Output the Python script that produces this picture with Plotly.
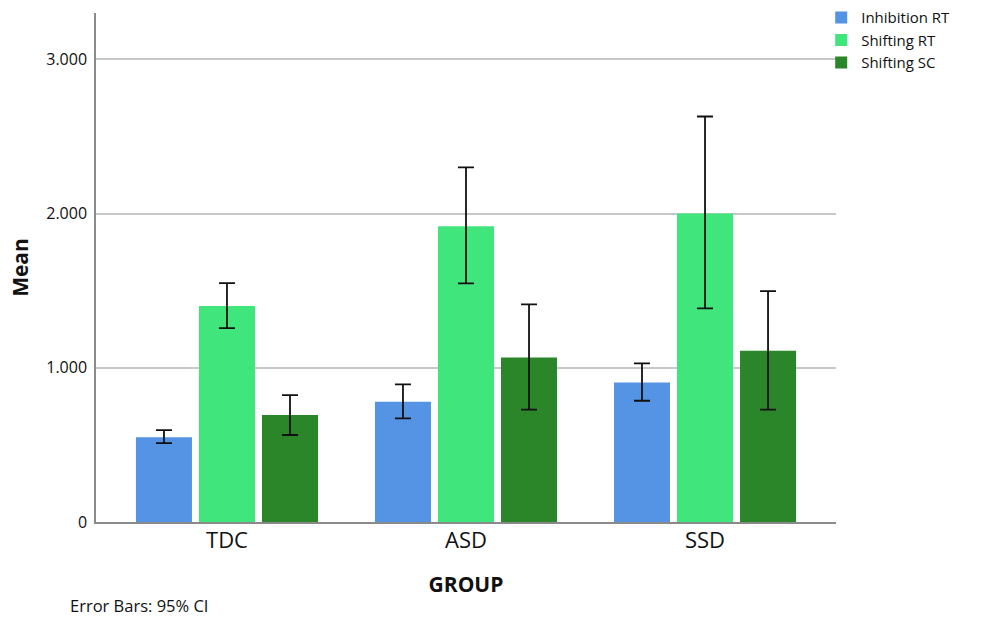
import plotly.graph_objects as go

groups = ["TDC", "ASD", "SSD"]
series_names = ["Inhibition RT", "Shifting RT", "Shifting SC"]
means = {
    "Inhibition RT": [0.550, 0.780, 0.905],
    "Shifting RT": [1.400, 1.918, 2.000],
    "Shifting SC": [0.693, 1.067, 1.110],
}
ci_upper = {
    "Inhibition RT": [0.596, 0.892, 1.028],
    "Shifting RT": [1.549, 2.299, 2.629],
    "Shifting SC": [0.823, 1.411, 1.497],
}
ci_lower = {
    "Inhibition RT": [0.512, 0.672, 0.786],
    "Shifting RT": [1.257, 1.547, 1.385],
    "Shifting SC": [0.564, 0.728, 0.728],
}
colors = {"Inhibition RT": "#5594E4", "Shifting RT": "#40E67B", "Shifting SC": "#2B8529"}
y_tickvals = [0, 1, 2, 3]
y_ticktext = ["0", "1.000", "2.000", "3.000"]

FONT = "Open Sans"

fig = go.Figure()
for name in series_names:
    m = means[name]
    up = [u - v for u, v in zip(ci_upper[name], m)]
    lo = [v - l for v, l in zip(m, ci_lower[name])]
    fig.add_trace(go.Bar(
        x=groups, y=m, name=name,
        marker=dict(color=colors[name], line=dict(width=0)),
        error_y=dict(type="data", symmetric=False, array=up, arrayminus=lo,
                     color="#111111", thickness=1.8, width=8),
    ))

fig.update_layout(
    width=981, height=617,
    margin=dict(l=96, r=145, t=13, b=95, autoexpand=False),
    plot_bgcolor="white", paper_bgcolor="white",
    barmode="group", bargap=0.209, bargroupgap=0.111,
    font=dict(family=FONT, color="#111111"),
    showlegend=True,
    legend=dict(x=0.98, y=1.023, xanchor="left", yanchor="top",
                font=dict(family=FONT, size=15, color="#111111"),
                itemwidth=30, tracegroupgap=0, bgcolor="rgba(0,0,0,0)"),
    xaxis=dict(
        range=[-0.548, 2.548], showgrid=False, showline=True, linecolor="#8a8a8a",
        linewidth=1.5, ticks="", tickfont=dict(family=FONT, size=22),
        ticklabelstandoff=-2,
        title=dict(text="<b>GROUP</b>", font=dict(family=FONT, size=21), standoff=24),
    ),
    yaxis=dict(
        range=[0, 3.3], tickvals=y_tickvals, ticktext=y_ticktext,
        showgrid=True, gridcolor="#c8c8c8", gridwidth=1.5, zeroline=False,
        showline=True, linecolor="#8a8a8a", linewidth=1.5, ticks="",
        tickfont=dict(family=FONT, size=16), ticklabelstandoff=4,
        title=dict(text="<b>Mean</b>", font=dict(family=FONT, size=21), standoff=12),
    ),
    annotations=[dict(
        text="Error Bars: 95% CI", xref="paper", yref="paper",
        x=-28/740, y=-83/509, xanchor="left", yanchor="middle", showarrow=False,
        font=dict(family=FONT, size=16.5, color="#111111"),
    )],
)

fig.write_html("out.html")
